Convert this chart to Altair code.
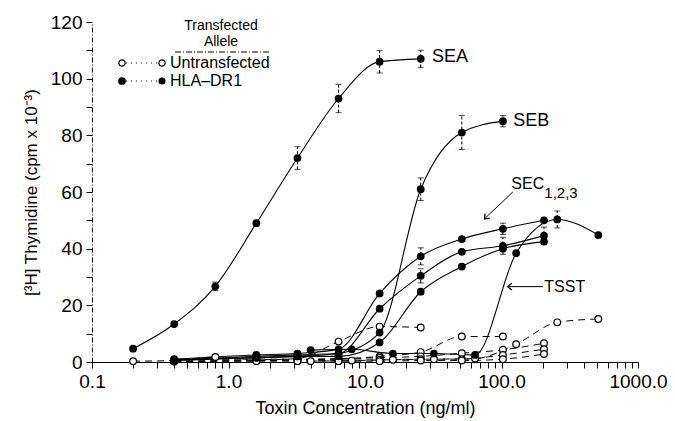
import altair as alt
import pandas as pd

# ---------------- data (ng/ml, cpm x 10^-3) ----------------
sea_x = [0.2, 0.4, 0.8, 1.6, 3.2, 6.4, 12.8, 25.6]
sea_t = [4.7, 13.4, 26.7, 49.0, 72.0, 93.0, 106.0, 107.0]
sea_te = [0, 0, 1.5, 0, 4.0, 5.0, 4.0, 3.0]
sea_u = [0.3, 0.5, 1.8, 0.8, 1.2, 7.2, 12.5, 12.2]

seb_x = [0.4, 1.6, 3.2, 6.4, 12.8, 25.6, 51.2, 102.4]
seb_t = [0.8, 1.5, 2.0, 3.0, 10.4, 61.0, 81.0, 85.0]
seb_te = [0, 0, 0, 0, 0, 4.0, 6.0, 2.0]
seb_u = [0.3, 0.5, 0.8, 1.0, 2.0, 3.5, 9.0, 9.0]

sec_x = [0.4, 1.6, 3.2, 6.4, 12.8, 25.6, 51.2, 102.4, 204.8]
sec1_t = [1.0, 2.5, 3.0, 4.5, 24.2, 37.3, 43.4, 47.0, 50.0]
sec1_te = [0, 0, 0, 0, 0, 3.0, 0, 2.0, 0]
sec2_t = [0.7, 2.0, 2.5, 3.0, 18.8, 30.4, 38.9, 41.0, 44.6]
sec2_te = [0, 0, 0, 0, 0, 2.5, 0, 3.0, 3.0]
sec3_t = [0.5, 1.5, 2.0, 2.0, 6.9, 24.8, 33.7, 40.0, 42.5]
sec3_te = [0, 0, 0, 0, 0, 0, 0, 0, 0]
sec1_u = [0.8, 1.0, 1.0, 1.2, 1.5, 2.0, 3.1, 4.3, 6.6]
sec2_u = [0.3, 0.5, 0.6, 0.6, 0.8, 1.0, 1.0, 2.5, 4.5]
sec3_u = [0.2, 0.3, 0.3, 0.3, 0.3, 0.5, 0.5, 1.0, 2.8]

tsst_x = [4, 8, 16, 32, 64, 128, 256, 512]
tsst_t = [4.2, 4.5, 3.0, 3.0, 2.5, 38.4, 50.3, 44.8]
tsst_te = [0, 0, 0, 0, 0, 0, 3.0, 0]
tsst_u = [0.3, 0.5, 0.8, 1.0, 1.2, 6.3, 14.0, 15.2]

ann_text = ["SEA", "SEB", "SEC", "1,2,3", "TSST"]
ann_x = [31.0, 122.0, 118.0, 206.0, 206.0]
ann_y = [107.5, 85.0, 63.0, 59.5, 26.6]
ann_size = [18, 18, 16, 15, 16]

# ---------------- tables ----------------
rows = []
def add(name, grp, xs, ys, es=None):
    for i, (xv, yv) in enumerate(zip(xs, ys)):
        e = es[i] if es else 0
        rows.append(dict(series=name + grp, grp=grp, x=xv, y=yv,
                         lo=yv - e, hi=yv + e, err=e))

add("SEA", "T", sea_x, sea_t, sea_te)
add("SEA", "U", sea_x, sea_u)
add("SEB", "T", seb_x, seb_t, seb_te)
add("SEB", "U", seb_x, seb_u)
add("SEC1", "T", sec_x, sec1_t, sec1_te)
add("SEC2", "T", sec_x, sec2_t, sec2_te)
add("SEC3", "T", sec_x, sec3_t, sec3_te)
add("SEC1", "U", sec_x, sec1_u)
add("SEC2", "U", sec_x, sec2_u)
add("SEC3", "U", sec_x, sec3_u)
add("TSST", "T", tsst_x, tsst_t, tsst_te)
add("TSST", "U", tsst_x, tsst_u)
df = pd.DataFrame(rows)

ann = pd.DataFrame(dict(t=ann_text, x=ann_x, y=ann_y, s=ann_size))

tick_vals = []
for d in [0.1, 1, 10, 100]:
    for k in range(1, 10):
        tick_vals.append(round(d * k, 6))
tick_vals.append(1000.0)

FONT = "Liberation Sans"

xscale = alt.Scale(type="log", domain=[0.1, 1000])
yscale = alt.Scale(domain=[0, 120])

x_axis = alt.Axis(
    values=tick_vals,
    labelExpr="indexof([0.1,1,10,100,1000], datum.value) >= 0 ? format(datum.value, '.1f') : ''",
    title="Toxin Concentration (ng/ml)",
    grid=False, domainColor="black", domainWidth=1.2,
    tickColor="black", tickWidth=1, tickSize=6,
    labelFontSize=19, labelFont=FONT, labelColor="black", labelPadding=4,
    labelFlush=False, labelOverlap=False,
    titleFont=FONT, titleFontSize=18, titleFontWeight="normal", titleColor="black",
    titlePadding=8)
y_axis = alt.Axis(
    values=list(range(0, 121, 10)),
    labelExpr="datum.value % 20 == 0 ? datum.label : ''",
    title="[³H] Thymidine (cpm x 10⁻³)",
    grid=False, domainColor="black", domainWidth=1, domainDash=[5, 2, 1, 2],
    tickColor="black", tickWidth=1, tickSize=6,
    labelFontSize=19, labelFont=FONT, labelColor="black", labelPadding=4,
    titleFont=FONT, titleFontSize=17, titleFontWeight="normal", titleColor="black",
    titlePadding=10)

X = alt.X("x:Q", scale=xscale, axis=x_axis)
Y = alt.Y("y:Q", scale=yscale, axis=y_axis)

base = alt.Chart(df)

lines_t = base.transform_filter("datum.grp == 'T'").mark_line(
    interpolate="monotone", color="black", strokeWidth=1.1
).encode(x=X, y=Y, detail="series:N")

lines_u = base.transform_filter("datum.grp == 'U'").mark_line(
    interpolate="monotone", color="black", strokeWidth=1, strokeDash=[7, 5]
).encode(x=X, y=Y, detail="series:N")

err = base.transform_filter("datum.err > 0")
err_rule = err.mark_rule(color="black", strokeWidth=1, strokeDash=[3, 2]).encode(
    x=X, y=alt.Y("lo:Q", scale=yscale, axis=y_axis), y2="hi:Q")
err_top = err.mark_tick(orient="horizontal", size=6, thickness=1, color="black").encode(
    x=X, y=alt.Y("hi:Q", scale=yscale, axis=y_axis))
err_bot = err.mark_tick(orient="horizontal", size=6, thickness=1, color="black").encode(
    x=X, y=alt.Y("lo:Q", scale=yscale, axis=y_axis))

pts_u = base.transform_filter("datum.grp == 'U'").mark_point(
    shape="circle", filled=False, fill="white", fillOpacity=1, color="black",
    strokeWidth=1.2, size=45, opacity=1
).encode(x=X, y=Y)

pts_t = base.transform_filter("datum.grp == 'T'").mark_point(
    shape="circle", filled=True, color="black", size=60, opacity=1
).encode(x=X, y=Y)

labels = alt.Chart(ann).mark_text(
    align="left", baseline="middle", font=FONT, color="black"
).encode(x=X, y=Y, text="t:N", size=alt.Size("s:Q", scale=None, legend=None))

# arrows (data coordinates)
arrow_df = pd.DataFrame(dict(arrow=["TSST", "TSST", "SEC", "SEC"],
                             x=[111.0, 201.0, 75.0, 121.0],
                             y=[26.6, 26.6, 50.5, 60.0]))
arrow_lines = alt.Chart(arrow_df).mark_line(color="black", strokeWidth=1).encode(
    x=X, y=Y, detail="arrow:N")
head_df = pd.DataFrame(dict(x=[111.0, 75.0], y=[26.6, 50.5], ang=[180, 136]))
heads = alt.Chart(head_df).mark_point(
    shape="M -1 -0.8 L 0 0 L -1 0.8", filled=False, color="black",
    strokeWidth=1.2, size=70, opacity=1
).encode(x=X, y=Y, angle=alt.Angle("ang:Q", scale=None))

# legend (pixel positions inside plot area)
one = pd.DataFrame({"a": [0]})
leg = [
    alt.Chart(one).mark_text(font=FONT, fontSize=14, align="center", baseline="middle",
                             color="black").encode(
        x=alt.value(129), y=alt.value(4), text=alt.value("Transfected")),
    alt.Chart(one).mark_text(font=FONT, fontSize=14, align="center", baseline="middle",
                             color="black").encode(
        x=alt.value(129), y=alt.value(20), text=alt.value("Allele")),
    alt.Chart(one).mark_rule(color="black", strokeWidth=1, strokeDash=[6, 2, 1, 2]).encode(
        x=alt.value(83), x2=alt.value(178), y=alt.value(30)),
    alt.Chart(one).mark_rule(color="black", strokeWidth=1, strokeDash=[1, 4]).encode(
        x=alt.value(34), x2=alt.value(66), y=alt.value(41)),
    alt.Chart(one).mark_rule(color="black", strokeWidth=1, strokeDash=[1, 4]).encode(
        x=alt.value(34), x2=alt.value(66), y=alt.value(59)),
    alt.Chart(one).mark_point(shape="circle", filled=False, fill="white", fillOpacity=1,
                              color="black", strokeWidth=1.2, size=40, opacity=1).encode(
        x=alt.value(30), y=alt.value(41)),
    alt.Chart(one).mark_point(shape="circle", filled=False, fill="white", fillOpacity=1,
                              color="black", strokeWidth=1.2, size=40, opacity=1).encode(
        x=alt.value(70), y=alt.value(41)),
    alt.Chart(one).mark_point(shape="circle", filled=True, color="black", size=60,
                              opacity=1).encode(x=alt.value(30), y=alt.value(59)),
    alt.Chart(one).mark_point(shape="circle", filled=True, color="black", size=50,
                              opacity=1).encode(x=alt.value(70), y=alt.value(59)),
    alt.Chart(one).mark_text(font=FONT, fontSize=16, align="left", baseline="middle",
                             color="black").encode(
        x=alt.value(78), y=alt.value(41), text=alt.value("Untransfected")),
    alt.Chart(one).mark_text(font=FONT, fontSize=16, align="left", baseline="middle",
                             color="black").encode(
        x=alt.value(78), y=alt.value(59), text=alt.value("HLA\u2013DR1")),
]

chart = alt.layer(
    lines_t, lines_u, err_rule, err_top, err_bot, pts_u, pts_t,
    labels, arrow_lines, heads, *leg
).properties(
    width=546, height=340,
    padding={"left": 92, "top": 22, "right": 37, "bottom": 59},
    autosize=alt.AutoSizeParams(type="none"),
    background="white",
).configure_view(stroke=None)

chart.save("out.html", embed_options={"renderer": "svg", "actions": False})
